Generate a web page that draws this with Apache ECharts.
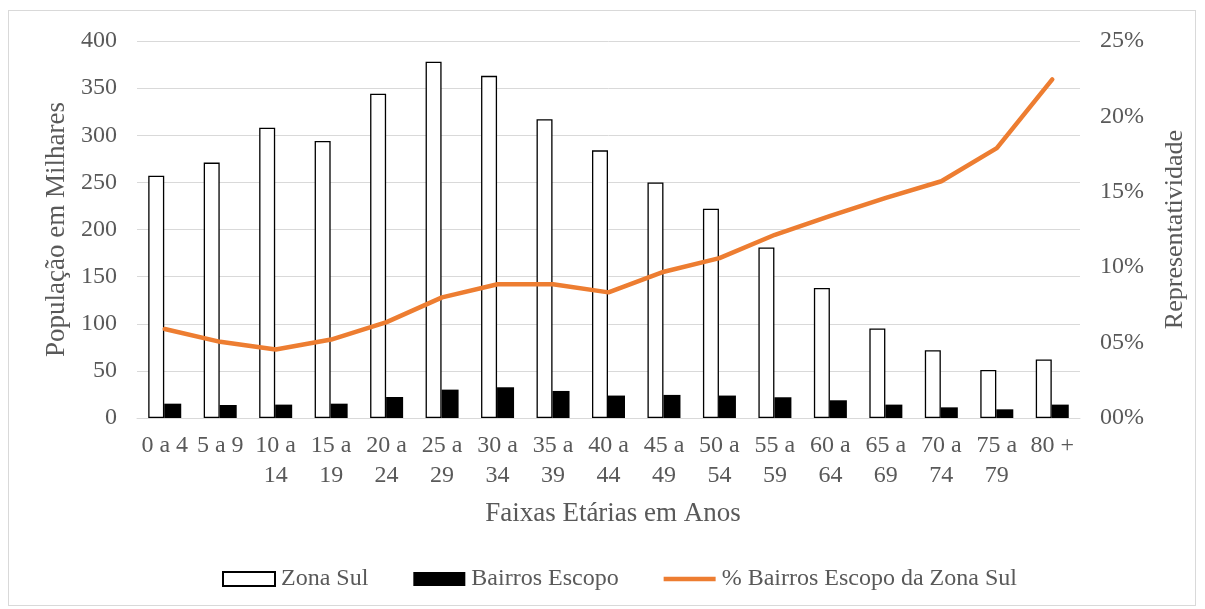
<!DOCTYPE html>
<html><head><meta charset="utf-8">
<script src="https://cdn.jsdelivr.net/npm/echarts@6/dist/echarts.min.js"></script>
<style>
html,body{margin:0;padding:0;background:#fff;}
#frame{position:absolute;left:8px;top:10px;width:1188px;height:596px;border:1px solid #d9d9d9;box-sizing:border-box;}
#c{position:absolute;left:0;top:0;width:1205px;height:609px;}
</style></head>
<body>
<div id="frame"></div>
<div id="c"></div>
<script>
const categories = ['0 a 4','5 a 9','10 a\n14','15 a\n19','20 a\n24','25 a\n29','30 a\n34','35 a\n39','40 a\n44','45 a\n49','50 a\n54','55 a\n59','60 a\n64','65 a\n69','70 a\n74','75 a\n79','80 +'];
const zonaSul = [257, 271, 308, 294, 344, 378, 363, 317, 284, 250, 222, 181, 138, 95, 72, 51, 62];
const bairrosEscopo = [15.2, 13.8, 14.2, 15.2, 22.3, 30.1, 32.6, 28.7, 23.8, 24.5, 23.8, 22, 18.8, 14.2, 11.3, 9.2, 14.2];
const pctBairros = [5.9, 5.05, 4.54, 5.2, 6.36, 8.0, 8.87, 8.87, 8.33, 9.7, 10.6, 12.15, 13.4, 14.6, 15.7, 17.9, 22.45];

const font = 'Liberation Serif';
const txt = '#595959';
const chart = echarts.init(document.getElementById('c'));
chart.setOption({
  animation: false,
  textStyle: {fontFamily: font},
  grid: {left: 137, right: 125, top: 41, bottom: 191, containLabel: false},
  legend: {
    bottom: 13, left: 217, itemGap: 45, itemWidth: 52, itemHeight: 14,
    textStyle: {fontFamily: font, fontSize: 24, color: txt, padding: [0,0,0,1]},
    data: [
      {name: 'Zona Sul', icon: 'rect'},
      {name: 'Bairros Escopo', icon: 'rect'},
      {name: '% Bairros Escopo da Zona Sul', icon: 'path://M0,0 L100,0 L100,9 L0,9 Z'}
    ]
  },
  xAxis: {
    type: 'category', data: categories,
    name: 'Faixas Etárias em Anos', nameLocation: 'middle', nameGap: 82,
    nameTextStyle: {fontFamily: font, fontSize: 27, color: txt, padding: [0,0,0,9]},
    axisLine: {lineStyle: {color: '#d9d9d9', width: 1}},
    axisTick: {show: false},
    axisLabel: {fontFamily: font, fontSize: 24, color: txt, margin: 13, lineHeight: 30, interval: 0}
  },
  yAxis: [{
    type: 'value', min: 0, max: 400, interval: 50,
    name: 'População em Milhares', nameLocation: 'middle', nameGap: 66, nameRotate: 90,
    nameTextStyle: {fontFamily: font, fontSize: 27, color: txt},
    axisLine: {show: false}, axisTick: {show: false},
    axisLabel: {fontFamily: font, fontSize: 24, color: txt, margin: 20},
    splitLine: {lineStyle: {color: '#d9d9d9', width: 1}}
  },{
    type: 'value', min: 0, max: 25, interval: 5,
    name: 'Representatividade', nameLocation: 'middle', nameGap: 82, nameRotate: 90,
    nameTextStyle: {fontFamily: font, fontSize: 26, color: txt},
    axisLine: {show: false}, axisTick: {show: false},
    axisLabel: {fontFamily: font, fontSize: 24, color: txt, margin: 20, formatter: v => (v < 10 ? '0' : '') + v + '%'},
    splitLine: {show: false}
  }],
  series: [
    {name: 'Zona Sul', type: 'bar', data: zonaSul, barWidth: 16, barGap: '0%',
     itemStyle: {color: '#ffffff', borderColor: '#000000', borderWidth: 1.3}},
    {name: 'Bairros Escopo', type: 'bar', data: bairrosEscopo, barWidth: 17,
     itemStyle: {color: '#000000'}},
    {name: '% Bairros Escopo da Zona Sul', type: 'line', yAxisIndex: 1, data: pctBairros,
     symbol: 'none', lineStyle: {color: '#ed7d31', width: 4.5, cap: 'round'}, itemStyle: {color: '#ed7d31'}}
  ]
});
</script>
</body></html>
